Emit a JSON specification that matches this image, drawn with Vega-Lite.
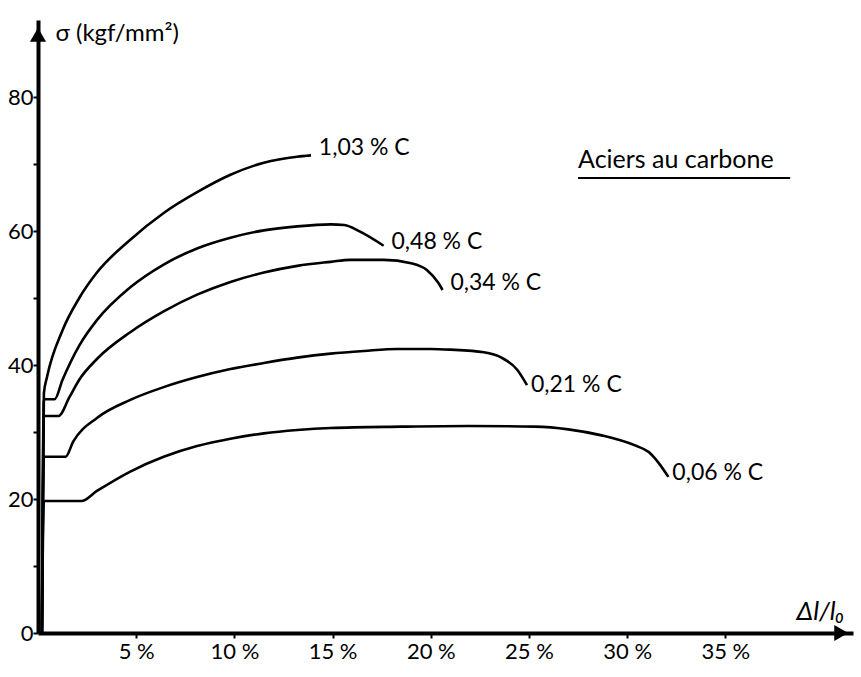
{
  "$schema": "https://vega.github.io/schema/vega-lite/v6.json",
  "autosize": {"type": "none"},
  "padding": {"left": 38, "top": 20, "right": 8, "bottom": 44},
  "width": 815,
  "height": 613,
  "background": "white",
  "config": {"view": {"stroke": null}, "font": "Lato"},
  "datasets": {
    "curves": [
      {"c": "1,03", "o": 1, "x": 0.2, "y": 0}, {"c": "1,03", "o": 2, "x": 0.3, "y": 35.8}, {"c": "1,03", "o": 3, "x": 0.45, "y": 38.1}, {"c": "1,03", "o": 4, "x": 1.25, "y": 45.2}, {"c": "1,03", "o": 5, "x": 2.1, "y": 50.0}, {"c": "1,03", "o": 6, "x": 3.0, "y": 53.8}, {"c": "1,03", "o": 7, "x": 4.7, "y": 58.7}, {"c": "1,03", "o": 8, "x": 6.4, "y": 62.7}, {"c": "1,03", "o": 9, "x": 8.1, "y": 65.8}, {"c": "1,03", "o": 10, "x": 9.8, "y": 68.4}, {"c": "1,03", "o": 11, "x": 11.5, "y": 70.2}, {"c": "1,03", "o": 12, "x": 13.2, "y": 71.1}, {"c": "1,03", "o": 13, "x": 13.9, "y": 71.3},
      {"c": "0,48", "o": 1, "x": 0.2, "y": 0}, {"c": "0,48", "o": 2, "x": 0.3, "y": 34.9}, {"c": "0,48", "o": 3, "x": 0.85, "y": 34.9}, {"c": "0,48", "o": 4, "x": 1.25, "y": 37.8}, {"c": "0,48", "o": 5, "x": 2.1, "y": 42.9}, {"c": "0,48", "o": 6, "x": 3.0, "y": 46.7}, {"c": "0,48", "o": 7, "x": 4.7, "y": 51.6}, {"c": "0,48", "o": 8, "x": 6.4, "y": 55.0}, {"c": "0,48", "o": 9, "x": 8.1, "y": 57.4}, {"c": "0,48", "o": 10, "x": 9.8, "y": 59.0}, {"c": "0,48", "o": 11, "x": 11.5, "y": 60.1}, {"c": "0,48", "o": 12, "x": 13.2, "y": 60.7}, {"c": "0,48", "o": 13, "x": 14.9, "y": 61.0}, {"c": "0,48", "o": 14, "x": 15.6, "y": 60.9}, {"c": "0,48", "o": 15, "x": 16.4, "y": 59.9}, {"c": "0,48", "o": 16, "x": 17.6, "y": 57.8},
      {"c": "0,34", "o": 1, "x": 0.2, "y": 0}, {"c": "0,34", "o": 2, "x": 0.3, "y": 32.4}, {"c": "0,34", "o": 3, "x": 1.05, "y": 32.4}, {"c": "0,34", "o": 4, "x": 1.6, "y": 35.2}, {"c": "0,34", "o": 5, "x": 2.1, "y": 37.8}, {"c": "0,34", "o": 6, "x": 3.0, "y": 40.9}, {"c": "0,34", "o": 7, "x": 4.7, "y": 44.9}, {"c": "0,34", "o": 8, "x": 6.4, "y": 48.0}, {"c": "0,34", "o": 9, "x": 8.1, "y": 50.5}, {"c": "0,34", "o": 10, "x": 9.8, "y": 52.4}, {"c": "0,34", "o": 11, "x": 11.5, "y": 53.8}, {"c": "0,34", "o": 12, "x": 13.2, "y": 54.8}, {"c": "0,34", "o": 13, "x": 14.9, "y": 55.4}, {"c": "0,34", "o": 14, "x": 15.9, "y": 55.7}, {"c": "0,34", "o": 15, "x": 17.6, "y": 55.7}, {"c": "0,34", "o": 16, "x": 19.0, "y": 55.2}, {"c": "0,34", "o": 17, "x": 19.8, "y": 54.2}, {"c": "0,34", "o": 18, "x": 20.4, "y": 52.2}, {"c": "0,34", "o": 19, "x": 20.6, "y": 51.2},
      {"c": "0,21", "o": 1, "x": 0.2, "y": 0}, {"c": "0,21", "o": 2, "x": 0.3, "y": 26.3}, {"c": "0,21", "o": 3, "x": 1.4, "y": 26.3}, {"c": "0,21", "o": 4, "x": 1.8, "y": 28.6}, {"c": "0,21", "o": 5, "x": 3.0, "y": 32.1}, {"c": "0,21", "o": 6, "x": 4.7, "y": 34.8}, {"c": "0,21", "o": 7, "x": 6.4, "y": 36.7}, {"c": "0,21", "o": 8, "x": 8.1, "y": 38.2}, {"c": "0,21", "o": 9, "x": 9.8, "y": 39.4}, {"c": "0,21", "o": 10, "x": 11.5, "y": 40.3}, {"c": "0,21", "o": 11, "x": 13.2, "y": 41.1}, {"c": "0,21", "o": 12, "x": 14.9, "y": 41.7}, {"c": "0,21", "o": 13, "x": 16.6, "y": 42.1}, {"c": "0,21", "o": 14, "x": 18.3, "y": 42.4}, {"c": "0,21", "o": 15, "x": 20.0, "y": 42.4}, {"c": "0,21", "o": 16, "x": 21.0, "y": 42.3}, {"c": "0,21", "o": 17, "x": 22.7, "y": 41.9}, {"c": "0,21", "o": 18, "x": 23.6, "y": 41.1}, {"c": "0,21", "o": 19, "x": 24.4, "y": 39.3}, {"c": "0,21", "o": 20, "x": 24.9, "y": 37.0},
      {"c": "0,06", "o": 1, "x": 0.2, "y": 0}, {"c": "0,06", "o": 2, "x": 0.3, "y": 19.7}, {"c": "0,06", "o": 3, "x": 2.2, "y": 19.7}, {"c": "0,06", "o": 4, "x": 3.0, "y": 21.2}, {"c": "0,06", "o": 5, "x": 4.7, "y": 24.1}, {"c": "0,06", "o": 6, "x": 6.4, "y": 26.3}, {"c": "0,06", "o": 7, "x": 8.1, "y": 27.9}, {"c": "0,06", "o": 8, "x": 9.8, "y": 29.0}, {"c": "0,06", "o": 9, "x": 11.5, "y": 29.8}, {"c": "0,06", "o": 10, "x": 13.2, "y": 30.3}, {"c": "0,06", "o": 11, "x": 14.9, "y": 30.6}, {"c": "0,06", "o": 12, "x": 18.5, "y": 30.8}, {"c": "0,06", "o": 13, "x": 21.9, "y": 30.9}, {"c": "0,06", "o": 14, "x": 25.3, "y": 30.8}, {"c": "0,06", "o": 15, "x": 27.0, "y": 30.4}, {"c": "0,06", "o": 16, "x": 28.7, "y": 29.5}, {"c": "0,06", "o": 17, "x": 30.4, "y": 28.0}, {"c": "0,06", "o": 18, "x": 31.1, "y": 27.0}, {"c": "0,06", "o": 19, "x": 31.6, "y": 25.4}, {"c": "0,06", "o": 20, "x": 32.1, "y": 23.3}
    ],
    "labels": [
      {"t": "1,03 % C", "x": 14.3, "y": 72.4, "s": 23},
      {"t": "0,48 % C", "x": 18.0, "y": 58.4, "s": 23},
      {"t": "0,34 % C", "x": 21.0, "y": 52.2, "s": 23},
      {"t": "0,21 % C", "x": 25.1, "y": 37.0, "s": 23},
      {"t": "0,06 % C", "x": 32.3, "y": 23.9, "s": 23},
      {"t": "Aciers au carbone", "x": 27.5, "y": 70.6, "s": 25}
    ],
    "underline": [{"x": 27.5, "x2": 38.3, "y": 67.9}],
    "arrows": [
      {"x": 0, "y": 89.3, "s": "triangle-up"},
      {"x": 40.9, "y": 0, "s": "triangle-right"}
    ]
  },
  "layer": [
    {
      "data": {"name": "curves"},
      "mark": {"type": "line", "color": "black", "strokeWidth": 2.6, "interpolate": "monotone"},
      "encoding": {
        "x": {
          "field": "x", "type": "quantitative",
          "scale": {"domain": [0, 41.5], "nice": false, "zero": true},
          "axis": {
            "values": [5, 10, 15, 20, 25, 30, 35],
            "labelExpr": "datum.value + ' %'",
            "grid": false, "domainColor": "black", "domainWidth": 4,
            "tickColor": "black", "tickSize": 5, "tickWidth": 2,
            "labelFont": "Lato", "labelFontSize": 22, "labelColor": "black",
            "labelPadding": 3, "labelDx": 14, "labelFlush": false,
            "title": "Δl/l₀", "titleFont": "Lato", "titleFontSize": 26, "titleFontWeight": "normal",
            "titleFontStyle": "italic",
            "titleColor": "black", "titleAnchor": "start", "titleAlign": "left",
            "titleX": 758, "titleY": -22, "titleBaseline": "middle"
          }
        },
        "y": {
          "field": "y", "type": "quantitative",
          "scale": {"domain": [0, 91.5], "nice": false},
          "axis": {
            "values": [0, 10, 20, 30, 40, 50, 60, 70, 80],
            "labelExpr": "datum.value % 20 == 0 ? datum.label : ''",
            "grid": false, "domainColor": "black", "domainWidth": 4,
            "tickColor": "black", "tickSize": 5, "tickWidth": 2,
            "labelFont": "Lato", "labelFontSize": 22, "labelColor": "black",
            "labelPadding": 0, "labelFlush": false,
            "title": "σ (kgf/mm²)", "titleFont": "Lato", "titleFontSize": 24, "titleFontWeight": "normal",
            "titleColor": "black", "titleAngle": 0, "titleAlign": "left",
            "titleX": 17, "titleY": 13, "titleBaseline": "middle"
          }
        },
        "detail": {"field": "c"},
        "order": {"field": "o", "type": "quantitative"}
      }
    },
    {
      "data": {"name": "labels"},
      "mark": {"type": "text", "align": "left", "baseline": "middle", "font": "Lato", "color": "black"},
      "encoding": {
        "x": {"field": "x", "type": "quantitative"},
        "y": {"field": "y", "type": "quantitative"},
        "text": {"field": "t"},
        "size": {"field": "s", "type": "quantitative", "scale": null, "legend": null}
      }
    },
    {
      "data": {"name": "underline"},
      "mark": {"type": "rule", "color": "black", "strokeWidth": 2},
      "encoding": {
        "x": {"field": "x", "type": "quantitative"},
        "x2": {"field": "x2"},
        "y": {"field": "y", "type": "quantitative"}
      }
    },
    {
      "data": {"name": "arrows"},
      "mark": {"type": "point", "filled": true, "color": "black", "opacity": 1, "size": 260},
      "encoding": {
        "x": {"field": "x", "type": "quantitative"},
        "y": {"field": "y", "type": "quantitative"},
        "shape": {"field": "s", "type": "nominal", "scale": null, "legend": null}
      }
    }
  ]
}
